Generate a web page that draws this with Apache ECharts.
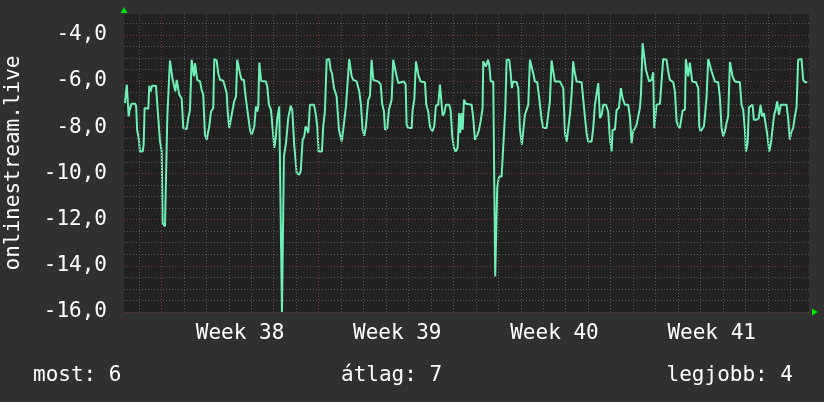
<!DOCTYPE html>
<html><head><meta charset="utf-8">
<script src="https://cdn.jsdelivr.net/npm/echarts@6/dist/echarts.min.js"></script>
<style>html,body{margin:0;padding:0;background:#303030}#c{width:824px;height:402px}</style>
</head><body><div id="c"></div><script>
// hours since start of graph window
const hours = [1,3,5,6,8,12,13,14,16,17,20,21,22,24,26,27,28.5,30,34.2,35.6,37.7,38.5,40.3,41.3,43.8,45.6,46.3,47.3,49.1,51,52,53.7,54.8,56.3,58,59.1,61.6,63.4,67,68.7,70.5,71.6,72.3,74,74.8,75.9,77.7,78.3,81.2,83,84.7,86.5,88.4,89.7,91.1,93,95.4,96.5,99,100.7,102.6,106.1,107.9,109.7,110.8,112.5,114.3,115.7,117.8,119.7,121,122.5,123.9,125.7,128.2,129.3,131.1,132.8,134.6,136.4,138.1,139.2,141,142.4,143.5,144.6,146.6,
151.7,153.1,154.9,157.1,158.9,160.6,162.1,163.8,165.9,167.7,168.8,170.2,170.9,173.1,175.5,178.1,179.8,181.9,184.5,187,188.8,190.9,192.6,194.1,195.8,196.9,198.7,203,204.8,206.5,208,211.5,212.9,214.7,216.6,219.3,220.8,222.2,224.4,227.2,229.7,232.6,234.3,237.2,239,240.7,242.2,243.3,245,248.6,251.4,253.2,255,256.7,258.5,261,262.8,264.6,266.4,271.7,274.3,276,277.8,278.9,281.3,283.1,286,287.7,289.5,291.4,293.1,294.9,
299.2,301,302,303.7,307.4,308.4,310.2,312,313.4,314.9,317,321.6,323,325.1,326.9,329.4,331.5,333.3,335.8,337.6,339,340.5,342.2,344,347.5,349,350.8,352.6,354.4,356.5,358.2,359.3,360.8,361.9,363.3,365.4,371.5,373.2,375,376.8,379,381.1,383.2,383.9,385.7,386.8,388.9,390.3,391.8,394.6,396.1,396.7,398.2,398.8,400.7,403.5,404.6,406,407.4,408.9,411.7,413.2,414.5,415.9,419.6,421.3,423.1,425.2,426.6,428.4,430.2,432,433.8,435.6,437.3,439.1,441.6,443.7,
446.3,448,451.6,453.3,455.1,456.9,458.7,460.5,465.8,467.6,469.4,471.2,473,474.7,476.5,478.3,480,481.8,483.7,489,490.7,492.5,494.3,496.1,499.7,501.4,503.2,505,506.8,508.6,510.4,512.1,515,517.4,519.2,521.1,522.1,524.6,526.4,528.9,531,532.8,535.3,538.8,540.6,542.4,544.1,546,547.8,549.5,551.3,552.4,554.2,555.9,557.7,559.5,561.2,563.8,565.5,566.6,568.1,569.1,572.7,574.5,576.2,579.8,581.5,583.3,586.9,588.7,590.5,592.2,
594,595.8,596.9,599.4,600.4,601.8,602.9,604.7,606.1,607.2,611.1,613.6,614.7,616.1,617.9,619.7,620.8,622.6,624.3,626.1,627.9,629.6,631.4,635,636.8,638.6,640.3,642.1,643.9,645.6,647.5,649.3,650.3,652.8,658.1,659.9,661.7,663.5,664.6,666.4,667.8,669.6,671.7,673.1,676,678.4,680.2,682,683.8,685.9,687.3,689.5,691.3,693.1,694.8,696.3,698,699.8,701.9,708,709.7,711.5,713.3,715.1,716.9,718.7,720.4,722.2,724,725.8,727.7,730.1];
const values = [-6.96,-6.16,-7.53,-7.25,-6.99,-6.99,-7.10,-8.11,-8.54,-9.05,-9.05,-8.76,-7.17,-7.17,-7.20,-6.21,-6.45,-6.21,-6.21,-7.03,-7.03,-8.62,-9.05,-12.15,-12.29,-12.29,-7.53,-7.45,-5.11,-5.11,-5.95,-6.00,-6.45,-5.95,-5.95,-6.60,-6.75,-8.04,-8.08,-7.61,-7.25,-7.17,-5.08,-5.08,-5.80,-5.23,-5.20,-5.95,-6.02,-6.38,-6.60,-8.33,-8.54,-8.54,-7.97,-7.32,-7.17,-5.05,-5.11,-5.66,-5.95,-5.99,-6.02,-6.52,-7.32,-8.04,-8.04,-7.32,-6.88,-6.66,-5.08,-5.15,-5.66,-5.95,-5.95,-6.45,-7.03,-7.10,-8.11,-8.33,-8.25,-7.97,-7.10,-7.32,-7.10,-5.20,-6.00,
-6.02,-6.24,-7.03,-7.25,-8.11,-8.90,-8.47,-7.61,-7.10,-7.10,-16.0,-16.0,-9.26,-8.69,-7.61,-7.07,-7.25,-8.76,-9.98,-10.06,-9.91,-8.54,-8.40,-7.97,-8.11,-8.25,-7.03,-7.03,-7.39,-7.97,-9.05,-9.05,-7.97,-7.32,-5.08,-5.05,-5.51,-5.66,-6.31,-6.66,-8.11,-8.62,-8.11,-7.10,-7.03,-5.05,-5.08,-5.80,-5.95,-6.02,-6.45,-7.03,-8.11,-8.37,-7.97,-6.81,-6.66,-5.08,-5.95,-6.03,-6.16,-7.03,-7.32,-8.11,-8.04,-7.25,-6.81,-5.08,-5.15,-5.80,-6.09,-6.02,
-6.02,-6.16,-7.89,-8.04,-8.04,-7.25,-6.81,-5.15,-5.15,-5.80,-6.02,-6.05,-7.03,-7.32,-7.97,-8.18,-7.97,-7.07,-7.03,-6.16,-6.09,-7.50,-7.39,-7.03,-7.03,-7.25,-8.40,-8.90,-9.05,-8.90,-7.39,-8.25,-7.39,-8.11,-6.81,-6.99,-7.03,-7.61,-8.54,-8.40,-8.18,-7.75,-7.17,-5.15,-5.08,-5.37,-5.08,-5.30,-6.02,-6.02,-6.09,-14.46,-14.46,-10.64,-10.13,-10.13,-9.34,-9.26,-7.25,-5.08,-5.08,-5.66,-6.31,-6.02,-6.05,-6.31,-8.11,-8.76,-8.76,-7.46,-7.25,-7.03,-5.08,-5.05,-5.66,-6.02,-6.05,-6.74,
-7.68,-8.04,-8.04,-7.46,-6.88,-5.11,-5.58,-6.02,-6.02,-6.09,-6.31,-8.25,-8.62,-8.62,-7.46,-6.60,-5.15,-5.66,-6.02,-6.05,-6.09,-7.53,-8.25,-8.62,-8.62,-8.04,-7.03,-7.03,-6.09,-7.61,-7.46,-7.03,-7.03,-7.32,-8.47,-9.05,-8.11,-8.11,-7.25,-7.17,-6.31,-6.74,-7.03,-7.03,-7.53,-8.69,-8.18,-8.04,-7.89,-7.53,-7.17,-6.60,-4.36,-4.43,-5.51,-5.58,-6.02,-5.95,-5.62,-8.04,-8.04,-7.03,-6.99,-6.95,-5.05,-5.08,-5.58,-5.95,-6.05,-6.45,-7.75,-7.94,
-8.04,-7.97,-7.28,-7.25,-5.05,-5.05,-5.80,-5.20,-5.20,-6.02,-6.05,-6.31,-7.97,-8.18,-8.18,-7.97,-7.53,-6.66,-5.05,-5.08,-5.58,-5.66,-6.02,-6.05,-6.74,-8.04,-8.40,-8.18,-7.82,-7.53,-5.18,-5.23,-5.80,-6.02,-6.05,-7.03,-7.25,-8.11,-9.05,-8.69,-7.14,-7.10,-7.03,-7.68,-7.68,-7.61,-7.03,-7.53,-7.39,-7.36,-8.28,-9.05,-8.69,-8.04,-7.46,-7.25,-6.88,-7.46,-7.03,-7.03,-7.61,-8.54,-8.18,-8.04,-7.53,-7.14,-5.08,-5.05,-5.05,-5.95,-6.05,-6.05];
const weekStarts = [40, 208, 376, 544, 712];
const weekNames = ['Week 38', 'Week 39', 'Week 40', 'Week 41'];
const dayLines = [16,64,88,112,136,160,184,232,256,280,304,328,352,400,424,448,472,496,520,568,592,616,640,664,688];
const yName = 'onlinestream.live';
const legendTexts = ['most: 6', 'átlag: 7', 'legjobb: 4'];

const FONT = 'DejaVu Sans Mono';
const weekLabelPos = weekNames.map((n, i) => weekStarts[i] + 84);
const chart = echarts.init(document.getElementById('c'), null, {renderer: 'canvas'});
const txt = {color: '#ffffff', fontSize: 21, fontFamily: FONT, fontWeight: 'normal'};
const arrowLine = {show: true, lineStyle: {color: '#00e000', width: 0}, symbol: ['none', 'triangle']};
chart.setOption({
  backgroundColor: '#303030',
  animation: false,
  title: [
    {text: legendTexts[0], left: 33, top: 365, padding: 0, textStyle: txt},
    {text: legendTexts[1], left: 341, top: 365, padding: 0, textStyle: txt},
    {text: legendTexts[2], right: 31, top: 365, padding: 0, textStyle: txt}
  ],
  grid: {left: 124, top: 14, width: 685, height: 298, show: true, backgroundColor: '#212121', borderWidth: 0,
    containLabel: false, outerBoundsMode: 'none'},
  xAxis: [{
    type: 'value', min: 0, max: 732,
    splitLine: {show: false}, axisTick: {show: false},
    axisLine: Object.assign({}, arrowLine, {symbolSize: [7, 6], symbolOffset: [0, 6]}),
    axisLabel: {customValues: weekLabelPos, margin: 11, ...txt,
      formatter: v => weekNames[weekLabelPos.indexOf(v)] || ''}
  }],
  yAxis: [{
    type: 'value', min: -16, max: -3.1, interval: 0.5, position: 'left',
    axisLabel: {show: false}, axisTick: {show: false}, axisLine: {show: false},
    splitLine: {show: true, showMaxLine: false, lineStyle: {color: '#575757', type: [1, 2], width: 1}}
  }, {
    type: 'value', min: -16, max: -3.1, interval: 2, position: 'left',
    axisTick: {show: false},
    axisLine: Object.assign({}, arrowLine, {symbolSize: [7, 6], symbolOffset: [0, 4]}),
    axisLabel: {margin: 17, showMaxLabel: false, ...txt, formatter: v => v.toFixed(1).replace('.', ',')},
    splitLine: {show: true, showMaxLine: false, lineStyle: {color: '#7a3838', type: [1, 2], width: 1}},
    name: yName, nameLocation: 'middle', nameGap: 100, nameTextStyle: txt
  }],
  series: [{
    type: 'line', data: [], silent: true, z: 1, xAxisIndex: 0, yAxisIndex: 1,
    markLine: {silent: true, animation: false, symbol: ['none', 'none'], label: {show: false},
      lineStyle: {color: '#575757', type: [1, 2], width: 1},
      data: dayLines.map(v => ({xAxis: v}))}
  }, {
    type: 'line', data: [], silent: true, z: 1, xAxisIndex: 0, yAxisIndex: 1,
    markLine: {silent: true, animation: false, symbol: ['none', 'none'], label: {show: false},
      lineStyle: {color: '#7a3838', type: [1, 2], width: 1},
      data: weekStarts.map(v => ({xAxis: v}))}
  }, {
    type: 'line', z: 3, xAxisIndex: 0, yAxisIndex: 1, symbol: 'none', silent: true,
    lineStyle: {color: '#6ff0b4', width: 2},
    data: hours.map((h, i) => [h, values[i]])
  }]
});
</script></body></html>
